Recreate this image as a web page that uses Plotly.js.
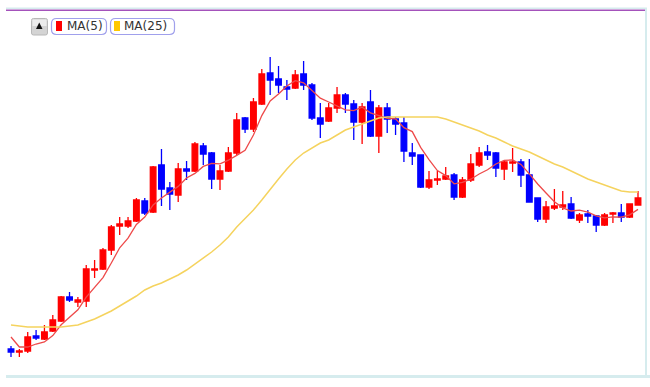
<!DOCTYPE html>
<html>
<head>
<meta charset="utf-8">
<script src="https://cdn.plot.ly/plotly-3.0.1.min.js"></script>
<style>
  html, body { margin: 0; padding: 0; background: #ffffff; }
  #chart { width: 650px; height: 387px; }
</style>
</head>
<body>
<div id="chart"></div>
<script>
// ---- data (prices) ----
const opens = [151,148,149,164,161,169,179,203,198,199,230,231,250,274,274,279,299,288,335,312,
  305,331,329,354,347,321,329,347,382,371,396,427,421,413,412,426,415,382,379,392,
  405,396,378,398,364,392,381,377,347,345,313,320,321,325,303,320,335,348,347,331,
  337,338,325,302,281,292,293,296,280,286,284,275,286,287,283,295];
const highs = [154,151,168,170,175,185,204,208,203,235,240,252,275,283,283,302,302,334,351,318,
  337,339,358,357,348,335,353,387,383,402,431,443,434,420,430,439,417,397,397,413,
  407,400,397,410,395,397,383,383,357,345,329,329,333,327,323,346,353,355,348,339,
  352,341,341,302,299,311,309,303,287,290,285,287,288,296,296,309];
const lows = [143,143,147,160,160,168,178,198,193,193,222,230,245,265,272,278,285,287,294,290,
  298,320,328,335,311,310,328,345,367,368,395,405,407,400,411,410,380,362,378,387,
  387,360,356,363,347,367,365,338,335,312,311,315,320,300,302,318,333,340,323,320,
  328,313,298,278,277,290,290,281,277,277,268,274,277,278,282,295];
const closes = [148,149,163,162,168,180,203,200,200,231,231,250,273,276,279,300,287,333,311,306,
  331,329,356,346,321,329,347,380,371,398,426,420,415,411,425,415,382,376,392,405,
  396,378,393,364,392,381,376,349,344,313,320,321,324,303,320,336,347,345,332,338,
  338,325,298,281,293,294,295,282,285,284,275,285,287,283,296,302];
const ma5 = [163,153,153,156,158,164.4,175.2,182.6,190.2,202.8,213,222.4,237,252.2,261.8,275.6,283,295,302,307.4,
  313.6,322,326.6,333.6,336.6,336.2,339.8,344.6,349.6,365,384.4,399,406,414,419.4,417.2,409.6,401.8,398,394,
  390.2,389.4,392.8,387.2,384.6,381.6,381.2,372.4,368.4,352.6,340.4,329.4,324.4,316.2,317.6,320.8,326,330.2,336,339.6,
  340,335.6,326.2,316,307,298.2,292.2,289,289.8,288,284.2,282.2,283.2,282.8,285.2,290.6];
const ma25 = [175,174,173,173,173,173,173,174,175,178,181,185,189,194,199,204,210,214,217,221,
  225,230,236,242,248,255,263,273,281,290,300,311,321,331,340,347,352,357,360,365,
  370,373,376,379,382,383,383,383,383,383,383,383,381,378,375,372,369,365,362,358,
  354,351,348,344,340,336,333,329,325,321,318,315,312,309,308,308];
const legendLabels = ["MA(5)", "MA(25)"];
const upColor = "#ff0000";
const downColor = "#0000ff";
const ma5Color = "#ee4a4a";
const ma25Color = "#f5d35e";

const days = closes.map((_, i) => i + 1);

// ---- layout helpers (pixel -> paper) ----
const W = 650, H = 387;
const M = { l: 6, r: 4, t: 10, b: 11 };
const PW = W - M.l - M.r, PH = H - M.t - M.b;
const px = x => (x - M.l) / PW;
const py = y => (H - M.b - y) / PH;

function roundRect(x0, y0, x1, y1, r) {
  const P = (x, y) => px(x).toFixed(5) + "," + py(y).toFixed(5);
  return "M" + P(x0 + r, y0) + " L" + P(x1 - r, y0) + " Q" + P(x1, y0) + " " + P(x1, y0 + r) +
    " L" + P(x1, y1 - r) + " Q" + P(x1, y1) + " " + P(x1 - r, y1) +
    " L" + P(x0 + r, y1) + " Q" + P(x0, y1) + " " + P(x0, y1 - r) +
    " L" + P(x0, y0 + r) + " Q" + P(x0, y0) + " " + P(x0 + r, y0) + " Z";
}
function rect(x0, y0, x1, y1, fill, lineColor, lw) {
  return { type: "rect", xref: "paper", yref: "paper", x0: px(x0), x1: px(x1), y0: py(y1), y1: py(y0),
    fillcolor: fill, line: { color: lineColor || fill, width: lw || 0 }, layer: "above" };
}

const shapes = [
  // frame lines
  rect(6, 7.5, 647, 9, "#d6ecee"),
  rect(6, 9.5, 645, 11, "#a452bb"),
  rect(645, 8, 647, 376, "#d6ecee"),
  rect(6, 375, 650, 378, "#d6ecee"),
  // toggle button
  { type: "path", xref: "paper", yref: "paper", path: roundRect(31.5, 18.5, 47.5, 35, 2),
    fillcolor: "#d4d4d4", line: { color: "#b8b8b8", width: 1 }, layer: "above" },
  rect(32.5, 19.5, 46.5, 26, "#ececec"),
  { type: "path", xref: "paper", yref: "paper",
    path: "M" + px(36) + "," + py(29) + " L" + px(42.5) + "," + py(29) + " L" + px(39.25) + "," + py(22.5) + " Z",
    fillcolor: "#111111", line: { width: 0 }, layer: "above" },
  // legend boxes
  { type: "path", xref: "paper", yref: "paper", path: roundRect(51.5, 18.5, 106.5, 34.5, 5),
    fillcolor: "#ffffff", line: { color: "#a0a0ec", width: 1.2 }, layer: "above" },
  { type: "path", xref: "paper", yref: "paper", path: roundRect(110.5, 18.5, 174.5, 34.5, 5),
    fillcolor: "#ffffff", line: { color: "#a0a0ec", width: 1.2 }, layer: "above" },
  rect(56, 21, 62, 31, "#ff0000"),
  rect(114, 21, 120, 31, "#ffc800")
];

const annotations = [
  { xref: "paper", yref: "paper", x: px(65), y: py(26.5), xanchor: "left", yanchor: "middle",
    text: legendLabels[0], showarrow: false, font: { family: "DejaVu Sans", size: 12, color: "#333333" } },
  { xref: "paper", yref: "paper", x: px(122), y: py(26.5), xanchor: "left", yanchor: "middle",
    text: legendLabels[1], showarrow: false, font: { family: "DejaVu Sans", size: 12, color: "#333333" } }
];

const traces = [
  {
    type: "candlestick", x: days, open: opens, high: highs, low: lows, close: closes,
    increasing: { line: { color: upColor, width: 1.3 }, fillcolor: upColor },
    decreasing: { line: { color: downColor, width: 1.3 }, fillcolor: downColor },
    whiskerwidth: 0, hoverinfo: "skip", showlegend: false
  },
  { type: "scatter", mode: "lines", x: days, y: ma5, line: { color: ma5Color, width: 1.3 },
    hoverinfo: "skip", showlegend: false },
  { type: "scatter", mode: "lines", x: days, y: ma25, line: { color: ma25Color, width: 1.5 },
    hoverinfo: "skip", showlegend: false }
];

const layout = {
  width: W, height: H,
  margin: M,
  paper_bgcolor: "#ffffff", plot_bgcolor: "#ffffff",
  showlegend: false,
  boxgap: 0.18, boxgroupgap: 0.18,
  xaxis: { visible: false, range: [0.402, 76.957], rangeslider: { visible: false }, fixedrange: true },
  yaxis: { visible: false, range: [124, 490], fixedrange: true },
  shapes: shapes,
  annotations: annotations
};

Plotly.newPlot("chart", traces, layout, { staticPlot: true, displayModeBar: false });
</script>
</body>
</html>
